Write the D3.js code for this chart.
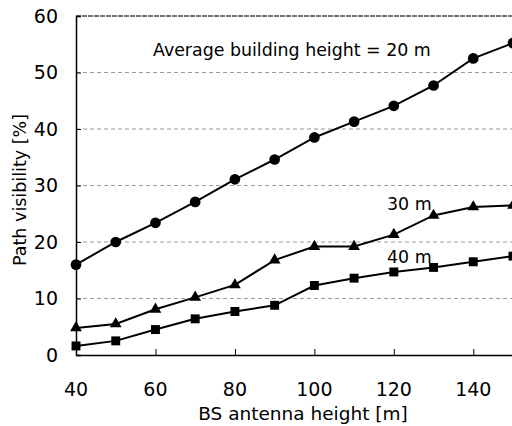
<!DOCTYPE html>
<html>
<head>
<meta charset="utf-8">
<script src="https://cdn.jsdelivr.net/npm/d3@7"></script>
<style>
  body { margin: 0; background: #fff; }
  svg { font-family: "DejaVu Sans", Verdana, sans-serif; }
</style>
</head>
<body>
<svg id="chart" width="512" height="426"></svg>
<script>
// antenna heights (x)
var heights = [40, 50, 60, 70, 80, 90, 100, 110, 120, 130, 140, 150];
// path visibility [%] for each average building height
var vis20 = [16.0, 20.0, 23.4, 27.1, 31.1, 34.6, 38.5, 41.3, 44.1, 47.7, 52.5, 55.2];
var vis30 = [4.8, 5.5, 8.1, 10.2, 12.4, 16.8, 19.2, 19.2, 21.3, 24.7, 26.2, 26.5];
var vis40 = [1.6, 2.5, 4.5, 6.4, 7.7, 8.8, 12.3, 13.6, 14.7, 15.5, 16.5, 17.5];
var xTicks = [40, 60, 80, 100, 120, 140];
var yTicks = [0, 10, 20, 30, 40, 50, 60];

var svg = d3.select("#chart");

var x = d3.scaleLinear().domain([40, 150]).range([76, 513]);
var y = d3.scaleLinear().domain([0, 60]).range([355, 16]);

// grid lines
svg.append("g")
  .selectAll("line")
  .data(yTicks.filter(function(d){ return d > 0; }))
  .enter()
  .append("line")
  .attr("x1", x(40))
  .attr("x2", 512)
  .attr("y1", function(d){ return y(d); })
  .attr("y2", function(d){ return y(d); })
  .attr("stroke", function(d){ return d == 60 ? "#444" : "#999"; })
  .attr("stroke-width", function(d){ return d == 60 ? 1.5 : 1; })
  .attr("stroke-dasharray", function(d){ return d == 60 ? "5,1" : "4,3"; });

// y axis
var yAxis = svg.append("g")
  .attr("transform", "translate(" + x(40) + ",0)")
  .call(d3.axisRight(y).tickValues(yTicks).tickSize(5).tickFormat(""));
yAxis.select(".domain").attr("stroke-width", 1.5);

svg.append("g")
  .selectAll("text")
  .data(yTicks)
  .enter()
  .append("text")
  .attr("x", 58)
  .attr("y", function(d){ return y(d); })
  .attr("dy", "0.36em")
  .attr("text-anchor", "end")
  .attr("font-size", "19px")
  .text(function(d){ return d; });

// x axis
var xAxis = svg.append("g")
  .attr("transform", "translate(0," + y(0) + ")")
  .call(d3.axisTop(x).tickValues(xTicks).tickSize(6).tickSizeOuter(0).tickFormat(""));
xAxis.select(".domain").attr("stroke-width", 1.5);

svg.append("g")
  .selectAll("text")
  .data(xTicks)
  .enter()
  .append("text")
  .attr("x", function(d){ return x(d); })
  .attr("y", 396)
  .attr("text-anchor", "middle")
  .attr("font-size", "19px")
  .text(function(d){ return d; });

// axis titles
svg.append("text")
  .attr("x", 303)
  .attr("y", 420)
  .attr("text-anchor", "middle")
  .attr("font-size", "18.5px")
  .text("BS antenna height [m]");

svg.append("text")
  .attr("transform", "translate(26,190) rotate(-90)")
  .attr("text-anchor", "middle")
  .attr("font-size", "17.5px")
  .text("Path visibility [%]");

// series
var line = d3.line()
  .x(function(d){ return x(d[0]); })
  .y(function(d){ return y(d[1]); });

function pairs(vals){ return heights.map(function(h, i){ return [h, vals[i]]; }); }

var series = [
  { vals: vis20, sym: d3.symbolCircle, size: 90 },
  { vals: vis30, sym: d3.symbolTriangle, size: 60 },
  { vals: vis40, sym: d3.symbolSquare, size: 80 }
];

series.forEach(function(s){
  svg.append("path")
    .datum(pairs(s.vals))
    .attr("d", line)
    .attr("fill", "none")
    .attr("stroke", "#000")
    .attr("stroke-width", 2);

  svg.append("g")
    .selectAll("path")
    .data(pairs(s.vals))
    .enter()
    .append("path")
    .attr("transform", function(d){ return "translate(" + x(d[0]) + "," + y(d[1]) + ")"; })
    .attr("d", d3.symbol().type(s.sym).size(s.size))
    .attr("fill", "#000");
});

// labels
svg.append("text")
  .attr("x", 153)
  .attr("y", 56)
  .attr("font-size", "17.4px")
  .text("Average building height = 20 m");

svg.append("text")
  .attr("x", 387)
  .attr("y", 210)
  .attr("font-size", "17.4px")
  .text("30 m");

svg.append("text")
  .attr("x", 387)
  .attr("y", 263)
  .attr("font-size", "17.4px")
  .text("40 m");
</script>
</body>
</html>
